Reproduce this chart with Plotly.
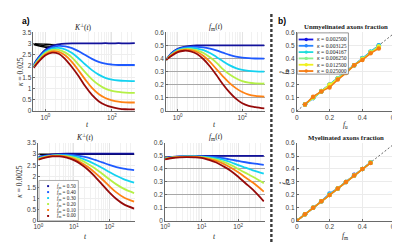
import plotly.graph_objects as go

W, H = 400, 242
def px(x): return x / W
def py(y): return 1 - y / H

# ---------------- data ----------------
fm_labels = ['0.50', '0.40', '0.30', '0.20', '0.10', '0.00']
fm_colors = ['#12129c', '#1e5aff', '#14d2f0', '#b4f046', '#ff8214', '#960a0a']

t_top = [0.44, 0.63, 1, 1.58, 2.51, 3.98, 6.31, 10, 15.8, 25.1, 39.8, 63.1, 100, 158, 251, 490]
t_bot = [1, 1.58, 2.51, 3.98, 6.31, 10, 15.8, 25.1, 39.8, 63.1, 100, 158, 251, 500]

# K_perp(t), kappa = 0.025
K_top = [
    [2.06, 2.40, 2.73, 2.90, 2.97, 3.00, 3.01, 3.01, 3.01, 3.01, 3.01, 3.02, 3.01, 3.02, 3.01, 3.02],
    [2.03, 2.36, 2.68, 2.84, 2.90, 2.88, 2.80, 2.66, 2.49, 2.32, 2.19, 2.11, 2.07, 2.05, 2.05, 2.05],
    [2.00, 2.32, 2.63, 2.78, 2.81, 2.74, 2.58, 2.34, 2.07, 1.82, 1.62, 1.48, 1.40, 1.36, 1.34, 1.33],
    [1.97, 2.28, 2.58, 2.72, 2.72, 2.60, 2.38, 2.06, 1.72, 1.41, 1.17, 1.00, 0.90, 0.85, 0.82, 0.81],
    [1.94, 2.24, 2.53, 2.66, 2.63, 2.47, 2.18, 1.80, 1.40, 1.03, 0.76, 0.58, 0.48, 0.42, 0.39, 0.38],
    [1.92, 2.20, 2.48, 2.60, 2.55, 2.30, 1.95, 1.55, 1.10, 0.72, 0.44, 0.27, 0.17, 0.11, 0.08, 0.07],
]
# short-time black curves (kappa = 0.025)
t_black_top = [0.44, 1, 2]
K_black_top = [
    [3.00, 2.97, 2.93],
    [2.98, 2.90, 2.85],
    [2.96, 2.84, 2.78],
]

# f_m(t), kappa = 0.025
F_top = [
    [0.39, 0.440, 0.475, 0.490, 0.497, 0.500, 0.501, 0.501, 0.501, 0.501, 0.501, 0.501, 0.501, 0.501, 0.501, 0.501],
    [0.39, 0.436, 0.470, 0.485, 0.490, 0.490, 0.486, 0.476, 0.462, 0.445, 0.428, 0.415, 0.407, 0.403, 0.401, 0.400],
    [0.39, 0.432, 0.465, 0.478, 0.482, 0.477, 0.465, 0.443, 0.413, 0.380, 0.350, 0.328, 0.314, 0.306, 0.302, 0.300],
    [0.39, 0.428, 0.460, 0.472, 0.473, 0.463, 0.443, 0.410, 0.370, 0.320, 0.280, 0.250, 0.228, 0.216, 0.211, 0.210],
    [0.39, 0.425, 0.455, 0.467, 0.465, 0.450, 0.420, 0.375, 0.320, 0.265, 0.215, 0.175, 0.145, 0.125, 0.115, 0.110],
    [0.39, 0.420, 0.450, 0.460, 0.455, 0.435, 0.395, 0.340, 0.275, 0.205, 0.145, 0.095, 0.060, 0.040, 0.030, 0.020],
]

# K_perp(t), kappa = 0.0025
K_bot = [
    [2.88, 2.95, 2.99, 3.01, 3.02, 3.02, 3.02, 3.02, 3.02, 3.02, 3.02, 3.02, 3.02, 3.02],
    [2.85, 2.92, 2.96, 2.98, 2.98, 2.96, 2.91, 2.84, 2.74, 2.63, 2.52, 2.42, 2.35, 2.28],
    [2.82, 2.90, 2.94, 2.96, 2.95, 2.90, 2.82, 2.70, 2.55, 2.38, 2.20, 2.03, 1.88, 1.72],
    [2.80, 2.88, 2.93, 2.94, 2.91, 2.85, 2.73, 2.56, 2.36, 2.12, 1.87, 1.64, 1.45, 1.25],
    [2.77, 2.87, 2.92, 2.92, 2.88, 2.79, 2.63, 2.42, 2.16, 1.87, 1.56, 1.28, 1.06, 0.86],
    [2.75, 2.85, 2.90, 2.90, 2.85, 2.73, 2.55, 2.30, 1.98, 1.63, 1.28, 0.98, 0.75, 0.55],
]
t_black_bot = [1, 500]
K_black_bot = [3.0, 3.0]

# f_m(t), kappa = 0.0025
F_bot = [
    [0.487, 0.494, 0.498, 0.500, 0.500, 0.501, 0.501, 0.501, 0.501, 0.501, 0.501, 0.501, 0.501, 0.501],
    [0.485, 0.492, 0.496, 0.498, 0.499, 0.498, 0.495, 0.490, 0.483, 0.473, 0.462, 0.452, 0.443, 0.432],
    [0.482, 0.490, 0.495, 0.497, 0.497, 0.495, 0.490, 0.482, 0.470, 0.452, 0.430, 0.410, 0.390, 0.365],
    [0.480, 0.489, 0.494, 0.496, 0.495, 0.492, 0.484, 0.472, 0.455, 0.430, 0.400, 0.370, 0.340, 0.290],
    [0.477, 0.487, 0.492, 0.494, 0.493, 0.488, 0.478, 0.462, 0.440, 0.410, 0.375, 0.335, 0.295, 0.225],
    [0.475, 0.485, 0.490, 0.492, 0.490, 0.485, 0.470, 0.450, 0.420, 0.385, 0.340, 0.290, 0.240, 0.150],
]

# b) estimated vs true fractions
kappa_labels = ['0.002500', '0.003125', '0.004167', '0.006250', '0.012500', '0.025000']
kappa_colors = ['#1414e6', '#2882ff', '#1edcdc', '#8cf08c', '#f0f01e', '#f57d14']

fu_true = [0.05, 0.10, 0.15, 0.20, 0.25, 0.30, 0.35, 0.40, 0.45, 0.50]
fu_est = [
    [0.050, 0.100, 0.150, 0.200, 0.250, 0.300, 0.350, 0.400, 0.450, 0.500],
    [0.050, 0.100, 0.152, 0.200, 0.250, 0.300, 0.350, 0.405, 0.450, 0.500],
    [0.050, 0.100, 0.150, 0.200, 0.250, 0.300, 0.350, 0.400, 0.455, 0.500],
    [0.050, 0.100, 0.152, 0.200, 0.250, 0.295, 0.350, 0.400, 0.450, 0.495],
    [0.050, 0.105, 0.150, 0.200, 0.245, 0.290, 0.350, 0.395, 0.445, 0.490],
    [0.050, 0.110, 0.150, 0.180, 0.240, 0.290, 0.350, 0.390, 0.440, 0.478],
]
fm_true = [0.00, 0.05, 0.10, 0.15, 0.20, 0.25, 0.30, 0.35, 0.40, 0.45]
fm_est = [
    [0.000, 0.050, 0.100, 0.150, 0.200, 0.250, 0.300, 0.355, 0.400, 0.450],
    [0.000, 0.050, 0.100, 0.150, 0.210, 0.250, 0.300, 0.350, 0.400, 0.450],
    [0.000, 0.050, 0.100, 0.150, 0.205, 0.250, 0.300, 0.350, 0.400, 0.450],
    [0.000, 0.050, 0.100, 0.150, 0.200, 0.250, 0.300, 0.350, 0.400, 0.450],
    [0.000, 0.050, 0.100, 0.150, 0.200, 0.250, 0.300, 0.350, 0.400, 0.448],
    [0.000, 0.050, 0.100, 0.150, 0.200, 0.250, 0.300, 0.350, 0.400, 0.447],
]
diag = [0, 0.6]

# ---------------- figure ----------------
fig = go.Figure()

def add_curves(tv, series, xa, ya):
    for vals, col in zip(series, fm_colors):
        fig.add_trace(go.Scatter(x=tv, y=vals, mode='lines', xaxis=xa, yaxis=ya,
                                 line=dict(color=col, width=1.8, shape='spline', smoothing=1.0),
                                 hoverinfo='skip'))

for vals in K_black_top:
    fig.add_trace(go.Scatter(x=t_black_top, y=vals, mode='lines', xaxis='x', yaxis='y',
                             line=dict(color='black', width=1.4, shape='spline'), hoverinfo='skip'))
add_curves(t_top, K_top, 'x', 'y')
add_curves(t_top, F_top, 'x2', 'y2')
fig.add_trace(go.Scatter(x=t_black_bot, y=K_black_bot, mode='lines', xaxis='x3', yaxis='y3',
                         line=dict(color='black', width=1.4), hoverinfo='skip'))
add_curves(t_bot, K_bot, 'x3', 'y3')
add_curves(t_bot, F_bot, 'x4', 'y4')

for xa, ya, tx, est in [('x5', 'y5', fu_true, fu_est), ('x6', 'y6', fm_true, fm_est)]:
    fig.add_trace(go.Scatter(x=diag, y=diag, mode='lines', xaxis=xa, yaxis=ya,
                             line=dict(color='#555555', width=0.9, dash='2px,2px'), hoverinfo='skip'))
    for vals, col in zip(est, kappa_colors):
        fig.add_trace(go.Scatter(x=tx, y=vals, mode='lines+markers', xaxis=xa, yaxis=ya,
                                 line=dict(color=col, width=1.6),
                                 marker=dict(color=col, size=4.5, symbol='circle'),
                                 hoverinfo='skip'))

tickfont = dict(family='Liberation Sans, Arial, sans-serif', size=6.5, color='#404040')

def base_axis(**kw):
    d = dict(showline=True, linecolor='#6a6a6a', linewidth=0.8, ticks='inside', ticklen=2,
             tickcolor='#6a6a6a', tickfont=tickfont, zeroline=False, showgrid=True,
             gridcolor='#eeeeee', gridwidth=0.6, mirror=False, fixedrange=True)
    d.update(kw)
    return d

minor_top = [0.5, 0.6, 0.7, 0.8, 0.9, 2, 3, 4, 5, 6, 7, 8, 9, 20, 30, 40, 50, 60, 70, 80, 90, 200, 300, 400]
minor_bot = [2, 3, 4, 5, 6, 7, 8, 9, 20, 30, 40, 50, 60, 70, 80, 90, 200, 300, 400, 500]

def log_axis(dom, anchor, rng, tv, tt, minor_vals):
    return base_axis(type='log', domain=dom, anchor=anchor, range=rng,
                     tickmode='array', tickvals=tv, ticktext=tt, gridcolor='#e4e4e4',
                     minor=dict(tickmode='array', tickvals=minor_vals, showgrid=True,
                                gridcolor='#f1f1f1', gridwidth=0.6, ticks=''))

top_y = [py(102), py(21)]
bot_y = [py(215), py(135)]

fig.update_layout(
    width=W, height=H, margin=dict(l=0, r=0, t=0, b=0),
    paper_bgcolor='white', plot_bgcolor='white', showlegend=False,
    xaxis=log_axis([px(21), px(125)], 'y', [-0.36, 2.69], [1, 100],
                   ['10<sup>0</sup>', '10<sup>2</sup>'], minor_top),
    yaxis=base_axis(domain=top_y, anchor='x', range=[0, 3.5], dtick=0.5),
    xaxis2=log_axis([px(157), px(258)], 'y2', [-0.36, 2.69], [1, 100],
                    ['10<sup>0</sup>', '10<sup>2</sup>'], minor_top),
    yaxis2=base_axis(domain=top_y, anchor='x2', range=[0, 0.6], tickvals=[0, 0.1, 0.2, 0.3, 0.4, 0.5, 0.6],
                     gridcolor='#a8a8a8', gridwidth=1.1),
    xaxis3=log_axis([px(26), px(125)], 'y3', [0, 2.72], [1, 10, 100],
                    ['10<sup>0</sup>', '10<sup>1</sup>', '10<sup>2</sup>'], minor_bot),
    yaxis3=base_axis(domain=bot_y, anchor='x3', range=[0, 3.5], dtick=0.5),
    xaxis4=log_axis([px(156), px(258)], 'y4', [0, 2.72], [1, 10, 100],
                    ['10<sup>0</sup>', '10<sup>1</sup>', '10<sup>2</sup>'], minor_bot),
    yaxis4=base_axis(domain=bot_y, anchor='x4', range=[0, 0.6], tickvals=[0, 0.1, 0.2, 0.3, 0.4, 0.5, 0.6],
                     gridcolor='#a8a8a8', gridwidth=1.1),
    xaxis5=base_axis(domain=[px(291), px(392)], anchor='y5', range=[0, 0.6],
                     tickvals=[0, 0.2, 0.4, 0.6], gridcolor='#ebebeb'),
    yaxis5=base_axis(domain=top_y, anchor='x5', range=[0, 0.6], dtick=0.1, gridcolor='#ebebeb'),
    xaxis6=base_axis(domain=[px(291), px(392)], anchor='y6', range=[0, 0.6],
                     tickvals=[0, 0.2, 0.4, 0.6], gridcolor='#ebebeb'),
    yaxis6=base_axis(domain=bot_y, anchor='x6', range=[0, 0.6], dtick=0.1, gridcolor='#ebebeb'),
)

serif = 'Liberation Serif, Times New Roman, serif'
ann = []
def text(x, y, s, size=7, angle=0, xanchor='center', yanchor='middle', family=serif, color='#1a1a1a'):
    ann.append(dict(x=px(x), y=py(y), xref='paper', yref='paper', text=s, showarrow=False,
                    font=dict(family=family, size=size, color=color), textangle=angle,
                    xanchor=xanchor, yanchor=yanchor))

text(13, 9, '<b>a)</b>', size=8.5, family='Liberation Sans, Arial, sans-serif', color='black')
text(276, 9, '<b>b)</b>', size=8.5, family='Liberation Sans, Arial, sans-serif', color='black')
# panel titles
text(72, 15, '<i>K</i><sup>⊥</sup>(<i>t</i>)', size=7.5)
text(208, 15, '<i>f</i><sub>m</sub>(<i>t</i>)', size=7.5)
text(74, 129, '<i>K</i><sup>⊥</sup>(<i>t</i>)', size=7.5)
text(208, 129, '<i>f</i><sub>m</sub>(<i>t</i>)', size=7.5)
text(342, 15, '<b>Unmyelinated axons fraction</b>', size=6.8)
text(342, 129, '<b>Myelinated axons fraction</b>', size=6.8)
# axis labels
for xx, yy in [(76, 116), (207, 116), (74, 231), (207, 231)]:
    text(xx, yy, '<i>t</i>', size=7.5)
text(341, 116, '<i>f</i><sub>u</sub>', size=7.5)
text(341, 231, '<i>f</i><sub>m</sub>', size=7.5)
text(7, 61, '<i>κ</i> = 0.025', size=7.5, angle=-90)
text(7, 175, '<i>κ</i> = 0.0025', size=7.5, angle=-90)
text(278, 62, '<i>f̂</i><sub>u</sub>', size=7.5, angle=-90)
text(279, 175, '<i>f̂</i><sub>m</sub>', size=7.5, angle=-90)

shapes = []
# separator
shapes.append(dict(type='line', xref='paper', yref='paper', x0=px(265), x1=px(265), y0=0, y1=1,
                   line=dict(color='#3a3a3a', width=2.4, dash='3px,2px'), layer='above'))

# legend for f_m (bottom-left panel)
shapes.append(dict(type='rect', xref='paper', yref='paper', x0=px(26.7), x1=px(67), y0=py(215), y1=py(173.5),
                   fillcolor='white', line=dict(color='#8a8a8a', width=0.7), layer='above'))
for i, (lab, col) in enumerate(zip(fm_labels, fm_colors)):
    yy = 179.3 + 6.15 * i
    shapes.append(dict(type='rect', xref='paper', yref='paper', x0=px(35), x1=px(37), y0=py(yy + 1), y1=py(yy - 1),
                       fillcolor=col, line=dict(width=0), layer='above'))
    text(43.5, yy, '<i>f</i><sub>m</sub> = ' + lab, size=5.2, xanchor='left')

# legend for kappa (top-right panel)
shapes.append(dict(type='rect', xref='paper', yref='paper', x0=px(291.5), x1=px(344), y0=py(64), y1=py(21.5),
                   fillcolor='white', line=dict(color='#6a6a6a', width=0.7), layer='above'))
for i, (lab, col) in enumerate(zip(kappa_labels, kappa_colors)):
    yy = 28.3 + 6.5 * i
    shapes.append(dict(type='line', xref='paper', yref='paper', x0=px(293), x1=px(308), y0=py(yy), y1=py(yy),
                       line=dict(color=col, width=1.8), layer='above'))
    shapes.append(dict(type='circle', xref='paper', yref='paper', x0=px(299), x1=px(302.5),
                       y0=py(yy + 1.75), y1=py(yy - 1.75), fillcolor=col, line=dict(width=0), layer='above'))
    text(310, yy, '<i>κ</i> = ' + lab, size=5.6, xanchor='left')

fig.update_layout(annotations=ann, shapes=shapes)
fig.write_html('out.html')
